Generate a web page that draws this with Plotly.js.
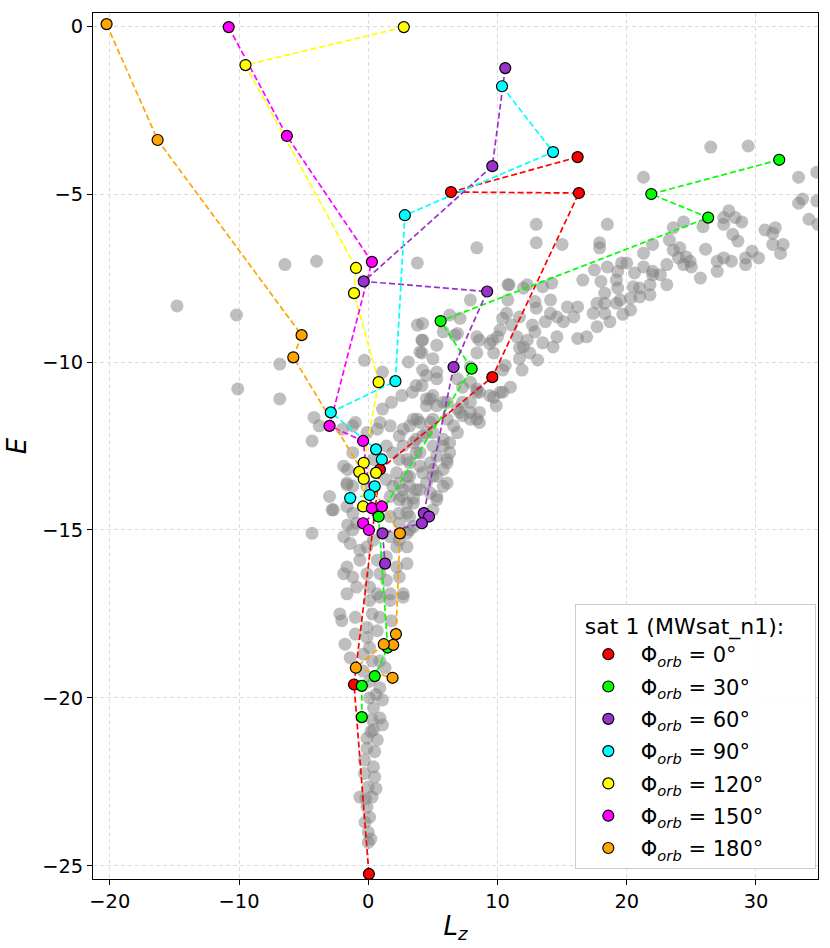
<!DOCTYPE html>
<html>
<head>
<meta charset="utf-8">
<script src="https://cdn.plot.ly/plotly-3.0.1.min.js"></script>
<style>html,body{margin:0;padding:0;background:#fff;}#chart{width:830px;height:948px;}</style>
</head>
<body>
<div id="chart"></div>
<script>
// ---- background particles (grey cloud) ----
const greyLz = [
-14.8,-10.2,-6.45,-4.0,-6.85,-10.1,-6.85,-4.2,-3.8,-4.35,-1.6,-1.65,-2.8,-4.35,-1.6,
3.8,8.4,-0.3,1.1,3.1,3.8,4.15,5.3,4.0,5.0,6.3,7.1,5.8,6.7,7.9,8.4,10.4,10.8,10.9,12.0,11.5,12.0,11.7,10.0,9.4,10.6,11.0,10.4,9.4,8.4,7.3,5.3,4.5,4.15,3.4,2.6,1.8,1.1,0.9,-1.0,4.8,5.8,6.9,7.9,8.4,7.3,6.1,5.0,3.8,3.2,
26.5,29.4,21.3,33.3,33.6,33.3,34.7,34.1,34.8,34.7,13.0,18.5,13.0,15.0,17.9,17.9,22.0,21.3,19.6,19.3,18.5,17.5,20.6,21.3,22.0,22.6,23.1,23.1,21.8,21.0,20.5,21.8,21.0,20.3,19.5,19.2,18.3,18.3,17.7,18.3,17.4,18.7,19.7,20.3,18.0,19.2,19.3,16.6,
23.3,23.6,24.1,24.0,24.6,24.4,25.0,24.9,24.4,23.6,25.9,26.1,25.7,27.0,27.0,27.5,28.1,27.5,27.9,27.5,28.4,28.9,28.2,28.6,29.2,29.2,29.7,30.2,30.7,31.5,31.3,31.3,32.1,31.9,20.0,22.0,
10.8,12.3,14.2,13.5,12.9,14.1,15.4,16.2,14.6,15.1,15.9,16.2,16.9,13.0,14.1,11.7,10.7,10.2,11.1,12.7,13.7,12.9,13.5,14.3,14.6,12.3,11.7,12.5,13.1,11.9,10.4,10.2,9.6,8.6,9.7,8.4,7.9,6.9,7.9,8.4,7.3,6.1,5.0,4.5,5.3,4.2,4.15,6.9,4.2,4.2,17.7,
9.7,9.9,8.6,7.9,8.6,8.6,7.9,7.1,6.6,6.9,6.3,6.3,6.1,5.8,5.8,5.3,5.0,4.8,4.2,4.0,3.5,3.0,3.2,2.4,5.3,4.5,3.7,3.5,4.0,4.8,5.0,4.2,3.5,2.7,2.7,3.7,3.0,4.0,3.0,2.4,3.2,2.6,3.0,5.3,5.8,
-2.0,-1.2,-0.1,0.7,1.7,2.4,1.4,1.9,2.4,3.2,4.0,5.0,5.8,6.1,5.0,3.2,2.2,1.4,1.9,2.7,3.7,4.8,5.3,5.0,3.5,2.4,1.7,2.4,3.2,1.7,2.4,3.0,3.5,-1.2,-1.65,-1.65,-1.2,-0.9,-1.2,-2.7,-1.9,-1.4,-0.65,-0.1,0.4,1.7,2.2,3.0,1.4,0.7,-0.65,-1.65,-1.9,-1.2,-0.1,0.9,2.2,3.0,2.4,1.4,0.1,-0.9,-1.65,0.7,1.7,2.7,0.4,-1.2,-1.9,-0.1,5.3,6.1,3.7,4.5,4.5,-3.0,
-2.2,-2.05,-1.0,-1.0,-1.8,-1.4,0.1,0.9,1.7,2.7,0.3,0.9,1.8,-0.1,0.7,-0.1,0.1,-0.4,0.3,0.9,1.3,-0.4,0.1,0.9,0.1,1.1,0.4,0.9,0.3,1.1,0.4,-0.1,0.7,-0.1,0.5,-0.3,0.4,-0.3,0.5,-0.65,0.0,0.3,-0.1,0.1,-0.25,0.0,0.0,0.6,0.2,0.6,-0.2,0.2
];
const greyE = [
-8.33,-8.6,-7.1,-7.0,-10.06,-10.8,-11.1,-11.65,-11.9,-12.35,-13.2,-13.66,-14.4,-15.1,-14.85,
-7.05,-6.6,-9.95,-10.3,-10.0,-8.9,-9.35,-9.5,-9.7,-9.9,-8.6,-8.7,-9.1,-9.2,-8.15,-9.25,-8.7,-8.15,-7.7,-7.8,-9.25,-9.55,-9.9,-9.25,-9.45,-10.1,-10.75,-10.9,-11.0,-10.8,-10.75,-10.3,-10.4,-10.7,-10.9,-11.0,-11.2,-11.4,-11.8,-11.8,-11.1,-11.2,-11.4,-11.5,-11.7,-11.6,-11.7,-11.7,-11.7,-11.9,
-3.6,-3.57,-4.5,-4.5,-5.15,-5.27,-5.2,-5.75,-5.9,-4.35,-5.9,-5.9,-6.45,-6.5,-6.45,-6.6,-6.5,-6.76,-7.05,-7.3,-7.17,-7.26,-7.35,-7.17,-7.3,-7.4,-7.1,-7.7,-7.7,-7.8,-7.76,-8.0,-8.06,-8.1,-8.15,-8.25,-7.95,-8.25,-8.25,-8.55,-8.55,-8.8,-8.58,-8.45,-7.6,-7.56,-7.8,-7.56,
-6.37,-6.67,-6.6,-6.9,-6.87,-7.1,-7.17,-7.0,-5.83,-6.0,-5.97,-6.64,-7.5,-7.3,-7.0,-6.9,-7.0,-5.7,-5.5,-5.9,-5.7,-5.83,-6.2,-6.4,-6.9,-7.1,-6.7,-6.9,-6.07,-6.0,-6.17,-6.5,-6.5,-6.77,-7.05,-7.4,
-7.7,-7.7,-7.65,-7.76,-8.2,-8.15,-8.36,-8.36,-8.66,-8.8,-8.66,-9.3,-9.25,-8.4,-8.55,-8.66,-8.55,-9.05,-8.9,-8.9,-8.8,-9.1,-9.43,-9.55,-9.25,-9.35,-9.58,-9.73,-9.94,-10.24,-10.24,-10.9,-9.35,-9.35,-9.73,-9.73,-10.15,-10.5,-10.6,-10.9,-11.2,-11.2,-11.0,-11.3,-10.5,-10.24,-9.73,-9.15,-8.85,-9.35,-8.95,
-11.05,-11.3,-10.9,-11.2,-11.5,-11.8,-11.7,-11.5,-11.9,-12.1,-12.4,-12.7,-13.0,-13.2,-13.7,-14.0,-13.4,-13.0,-13.3,-13.8,-14.05,-14.5,-15.0,-15.3,-11.3,-11.1,-10.7,-11.7,-11.8,-11.8,-12.1,-12.2,-12.4,-12.0,-12.5,-12.7,-12.9,-13.1,-13.4,-13.6,-13.7,-14.0,-14.2,-12.8,-12.5,
-12.0,-11.9,-12.1,-12.0,-11.9,-12.2,-12.5,-12.7,-12.9,-13.0,-12.7,-12.5,-12.3,-12.9,-13.2,-13.4,-13.3,-13.5,-13.7,-13.8,-13.8,-13.9,-14.1,-14.4,-14.2,-14.1,-14.0,-14.5,-14.6,-14.6,-14.8,-15.1,-14.9,-13.7,-13.6,-14.3,-14.5,-14.8,-15.0,-14.4,-15.2,-15.4,-15.6,-15.5,-15.3,-15.2,-15.5,-15.5,-15.8,-15.9,-15.9,-16.1,-16.3,-16.4,-16.3,-16.3,-16.1,-16.0,-16.4,-16.5,-16.7,-16.7,-16.9,-16.9,-16.9,-16.9,-12.9,-12.7,-13.1,-13.7,-13.4,-13.6,-12.3,-12.1,-13.6,-14.0,
-17.5,-17.7,-17.6,-18.1,-18.4,-18.8,-17.1,-17.0,-17.1,-17.0,-17.5,-17.6,-17.7,-17.9,-18.0,-18.2,-18.5,-18.7,-18.9,-18.9,-19.1,-19.2,-19.5,-19.7,-20.0,-20.06,-20.3,-20.6,-20.65,-20.8,-20.95,-21.2,-21.25,-21.5,-21.6,-21.85,-22.05,-22.25,-22.35,-22.95,-22.65,-22.95,-23.25,-23.55,-23.7,-24.0,-24.3,-19.9,-21.0,-22.7,-23.0,-24.2
];

// ---- satellite trajectories, one per orbital phase ----
const phases = ["0", "30", "60", "90", "120", "150", "180"];
const colors = ["#ff0000", "#00ff00", "#9932cc", "#00ffff", "#ffff00", "#ff00ff", "#ffa500"];
const lz0 = [16.2, 6.4, 16.3, 9.6, 0.9, -1.1, 0.05];
const e0  = [-3.9, -4.94, -4.97, -10.45, -13.2, -19.6, -25.24];
const lz30 = [31.8, 21.9, 26.3, 5.6, 8.0, 0.8, 1.5, 0.5, -0.5, -0.5];
const e30  = [-3.98, -5.0, -5.7, -8.78, -10.2, -14.6, -18.5, -19.35, -19.64, -20.57];
const lz60 = [10.6, 9.6, -0.35, 9.2, 6.6, 4.3, 4.7, 4.15, 1.1, 1.3];
const e60  = [-1.25, -4.17, -7.6, -7.9, -10.15, -14.5, -14.6, -14.8, -15.1, -16.0];
const lz90 = [10.35, 14.3, 2.83, 2.1, -2.9, 0.6, 1.05, 0.5, 0.1, -1.4];
const e90  = [-1.79, -3.75, -5.63, -10.57, -11.5, -12.6, -12.9, -13.7, -13.96, -14.05];
const lz120 = [2.75, -9.5, -0.95, -1.1, 0.8, -0.35, 0.6, -0.7, -0.35, -0.4];
const e120  = [-0.03, -1.16, -7.2, -7.95, -10.6, -13.0, -13.3, -13.27, -13.48, -14.3];
const lz150 = [-10.8, -6.3, 0.28, -3.0, -0.4, 0.28, 1.05, -0.4, 0.05];
const e150  = [-0.03, -3.27, -7.02, -11.9, -12.35, -14.35, -14.3, -14.8, -15.0];
const lz180 = [-20.25, -16.3, -5.16, -5.8, 2.45, 2.14, 1.93, 1.2, -0.96, 1.88];
const e180  = [0.06, -3.39, -9.2, -9.86, -15.1, -18.1, -18.42, -18.4, -19.1, -19.4];

const seriesLz = [lz0, lz30, lz60, lz90, lz120, lz150, lz180];
const seriesE  = [e0, e30, e60, e90, e120, e150, e180];

const xTicks = [-20, -10, 0, 10, 20, 30];
const yTicks = [0, -5, -10, -15, -20, -25];
const legendTitle = "&nbsp;sat 1 (MWsat_n1):&nbsp;&nbsp;&nbsp;&nbsp;";

const traces = [];
traces.push({
  x: greyLz, y: greyE, type: "scatter", mode: "markers",
  marker: {size: 13, color: "rgba(128,128,128,0.5)", line: {width: 0}},
  showlegend: false, hoverinfo: "skip"
});
for (let i = 0; i < phases.length; i++) {
  traces.push({
    x: seriesLz[i], y: seriesE[i], type: "scatter", mode: "lines",
    line: {color: colors[i], width: 1.7, dash: "6px,3px"},
    showlegend: false, hoverinfo: "skip"
  });
}
for (let i = 0; i < phases.length; i++) {
  traces.push({
    x: seriesLz[i], y: seriesE[i], type: "scatter", mode: "markers",
    name: "Φ<sub><i>orb</i></sub> = " + phases[i] + "°",
    legendgroup: "g" + i,
    marker: {size: 11, color: colors[i], line: {color: "#000", width: 1.2}}
  });
}

const axisCommon = {
  showline: true, mirror: true, linecolor: "#000", linewidth: 1,
  ticks: "outside", ticklen: 5, tickwidth: 1, tickcolor: "#000",
  showgrid: true, gridcolor: "#dcdcdc", griddash: "4px,3px", gridwidth: 1,
  zeroline: false,
  tickfont: {family: "DejaVu Sans", size: 19.4, color: "#000"}
};

const layout = {
  width: 830, height: 948,
  margin: {l: 93, r: 12, t: 13, b: 69},
  paper_bgcolor: "#fff", plot_bgcolor: "#fff",
  font: {family: "DejaVu Sans", color: "#000"},
  xaxis: Object.assign({}, axisCommon, {
    range: [-21.3, 34.8], tickvals: xTicks,
    title: {text: "<i>L<sub>z</sub></i>", font: {family: "DejaVu Sans", size: 26}, standoff: 4}
  }),
  yaxis: Object.assign({}, axisCommon, {
    range: [-25.39, 0.39], tickvals: yTicks,
    title: {text: "<i>E</i>", font: {family: "DejaVu Sans", size: 26}, standoff: 8}
  }),
  legend: {
    x: 0.997, xanchor: "right", y: 0.011, yanchor: "bottom",
    bgcolor: "rgba(255,255,255,0.85)", bordercolor: "#cccccc", borderwidth: 1,
    font: {family: "DejaVu Sans", size: 21, color: "#000"},
    title: {text: legendTitle, font: {family: "DejaVu Sans", size: 22}},
    traceorder: "grouped", tracegroupgap: 2, itemwidth: 55
  },
  showlegend: true
};

Plotly.newPlot("chart", traces, layout, {displayModeBar: false, staticPlot: true});
</script>
</body>
</html>
